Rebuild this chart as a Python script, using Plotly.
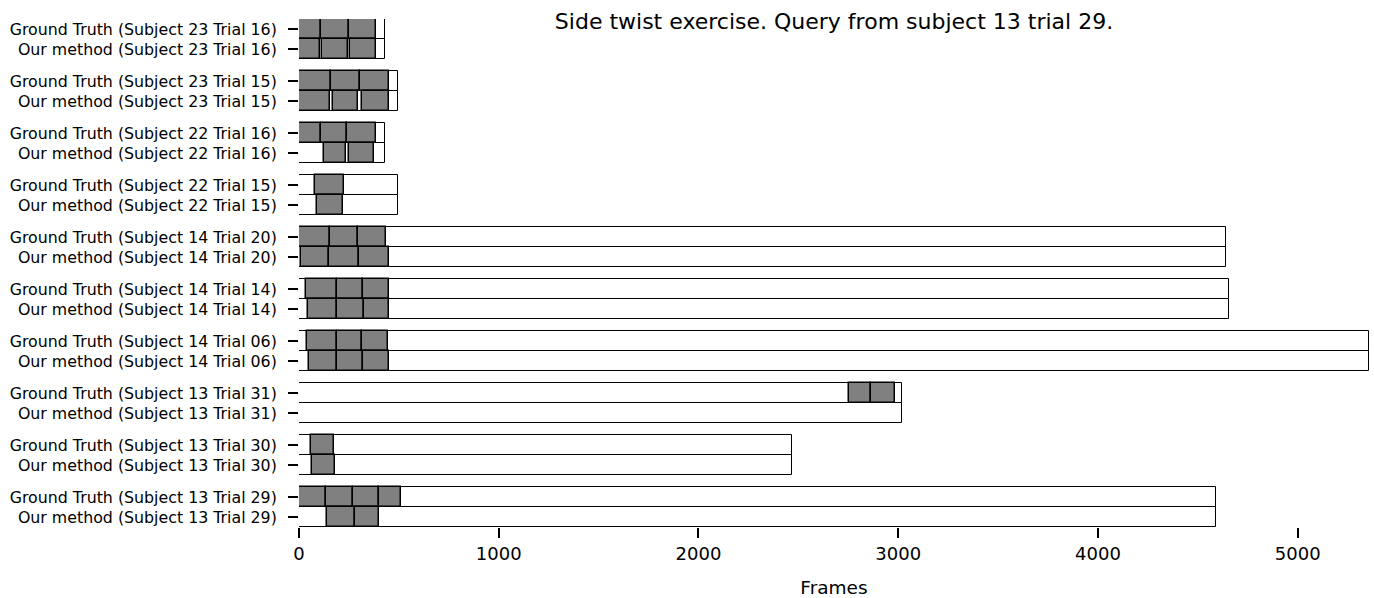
import plotly.graph_objects as go

# ---------------- data (rows listed top to bottom) ----------------
subjects = [
    "Subject 23 Trial 16", "Subject 23 Trial 15", "Subject 22 Trial 16",
    "Subject 22 Trial 15", "Subject 14 Trial 20", "Subject 14 Trial 14",
    "Subject 14 Trial 06", "Subject 13 Trial 31", "Subject 13 Trial 30",
    "Subject 13 Trial 29",
]
totals = [433, 495, 433, 495, 4643, 4654, 5357, 3017, 2469, 4592]

gt_segments = [
    [(0, 111), (111, 250), (250, 386)],
    [(0, 161), (161, 306), (306, 453)],
    [(0, 111), (111, 241), (241, 386)],
    [(81, 223)],
    [(2, 153), (153, 294), (294, 437)],
    [(36, 189), (189, 320), (320, 450)],
    [(39, 189), (189, 313), (313, 445)],
    [(2756, 2866), (2866, 2983)],
    [(59, 174)],
    [(0, 136), (136, 270), (270, 403), (403, 510)],
]
ours_segments = [
    [(0, 104), (113, 244), (253, 383)],
    [(0, 153), (169, 296), (316, 453)],
    [(124, 233), (248, 376)],
    [(91, 219)],
    [(8, 149), (149, 298), (298, 450)],
    [(43, 189), (189, 323), (323, 453)],
    [(49, 189), (189, 320), (320, 453)],
    [],
    [(66, 179)],
    [(139, 278), (278, 400)],
]
title_text = "Side twist exercise. Query from subject 13 trial 29."
x_label = "Frames"
x_ticks = [0, 1000, 2000, 3000, 4000, 5000]

# ---------------- layout of rows ----------------
n = len(subjects)
pair_gap = 2.6
y_gt, y_ours = [], []
for i in range(n):
    base = (n - 1 - i) * pair_gap
    y_gt.append(base + 1)
    y_ours.append(base)

tot_y, tot_x = [], []
seg_y, seg_base, seg_len = [], [], []
for i in range(n):
    for yy in (y_gt[i], y_ours[i]):
        tot_y.append(yy)
        tot_x.append(totals[i])
    for (a, b) in gt_segments[i]:
        seg_y.append(y_gt[i]); seg_base.append(a); seg_len.append(b - a)
    for (a, b) in ours_segments[i]:
        seg_y.append(y_ours[i]); seg_base.append(a); seg_len.append(b - a)

fig = go.Figure()
fig.add_trace(go.Bar(
    orientation="h", y=tot_y, x=tot_x, base=[0] * len(tot_x), width=1,
    marker=dict(color="white", line=dict(color="black", width=1)),
    showlegend=False, hoverinfo="skip",
))
fig.add_trace(go.Bar(
    orientation="h", y=seg_y, x=seg_len, base=seg_base, width=1,
    marker=dict(color="#808080", line=dict(color="black", width=1.5)),
    showlegend=False,
))

tickvals, ticktext = [], []
for i in range(n):
    tickvals += [y_gt[i], y_ours[i]]
    ticktext += [f"Ground Truth ({subjects[i]})", f"Our method ({subjects[i]})"]

fig.update_layout(
    width=1374, height=598,
    barmode="overlay", bargap=0,
    plot_bgcolor="white", paper_bgcolor="white",
    margin=dict(l=299, r=5, t=19, b=71),
    font=dict(family="DejaVu Sans", color="black"),
    title=dict(text=title_text, x=(299 + 1369) / 2 / 1374, xanchor="center",
               xref="container",
               y=1 - 21 / 598, yanchor="middle", yref="container",
               font=dict(size=22, family="DejaVu Sans", color="black")),
    xaxis=dict(range=[0, 5357], tickvals=x_ticks, ticks="outside", ticklen=10,
               tickwidth=2, tickcolor="black", showgrid=False, zeroline=False,
               showline=False, tickfont=dict(size=18), automargin=False,
               title=dict(text=x_label, font=dict(size=18.5), standoff=18)),
    yaxis=dict(range=[-0.5, (n - 1) * pair_gap + 1.5], tickvals=tickvals,
               ticktext=ticktext, ticks="outside", ticklen=10, tickwidth=2,
               tickcolor="black", showgrid=False, zeroline=False,
               showline=False, tickfont=dict(size=15.8), ticklabelstandoff=8,
               automargin=False),
)

fig.write_html("out.html")
